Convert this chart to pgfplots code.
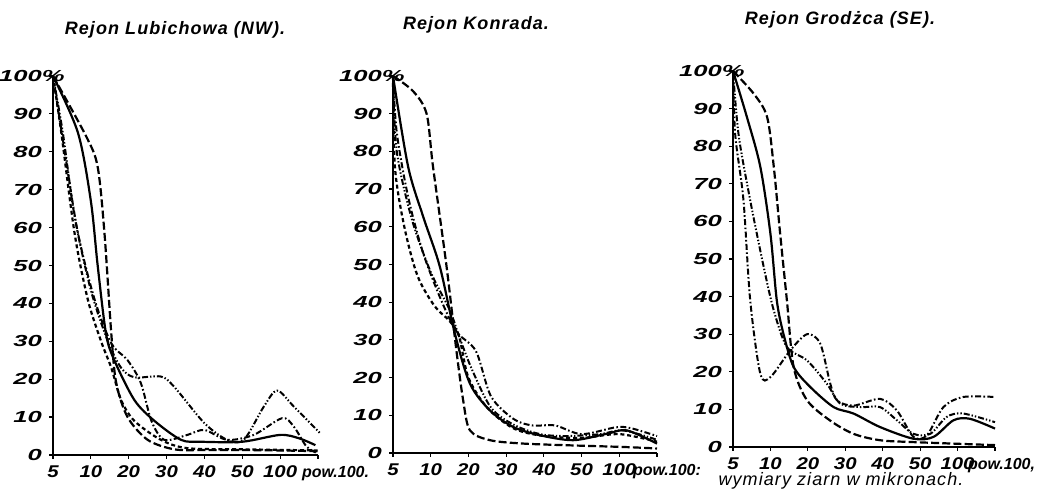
\documentclass[border=0pt]{standalone}
\usepackage{fontspec}
\setmainfont{Liberation Sans}
\newfontfamily\titlefont[LetterSpace=6]{Liberation Sans}
\newfontfamily\ytickfont[FakeStretch=1.6]{Liberation Sans}
\newfontfamily\xtickfont[FakeStretch=1.2]{Liberation Sans}
\newfontfamily\lastfont{Liberation Sans}
\usepackage{pgfplots}
\pgfplotsset{compat=1.18}
\newcommand{\lastlab}[2]{\rlap{\hspace*{#1}\lastfont\fontsize{8}{9}\selectfont\bfseries\itshape #2}}
\pgfplotsset{
  panel/.style={
    scale only axis,
    xmin=0, xmax=7, ymin=0, ymax=100,
    axis x line*=bottom, axis y line*=left,
    axis line style={line width=1.3pt,-},
    xtick={0,...,7}, ytick={0,10,...,100},
    yticklabels={0,10,20,30,40,50,60,70,80,90,{100\rlap{\%}}},
    tick style={black,line width=0.6pt},
    major tick length=2pt, tick align=outside,
    yticklabel style={font=\ytickfont\fontsize{8}{9}\selectfont\bfseries\itshape},
    xticklabel style={font=\xtickfont\fontsize{8.5}{10}\selectfont\bfseries\itshape},
    anchor=south west,
    clip=false,
  },
  solidc/.style={black,line width=1.1pt,smooth},
  longd/.style={black,line width=1.1pt,smooth,dash pattern=on 4pt off 1.6pt},
  shortd/.style={black,line width=1.1pt,smooth,dash pattern=on 2pt off 1.4pt},
  dashdot/.style={black,line width=1pt,smooth,dash pattern=on 3pt off 1.2pt on 0.8pt off 1.2pt},
  dashdotdot/.style={black,line width=1pt,smooth,dash pattern=on 3pt off 1pt on 0.7pt off 1pt on 0.7pt off 1pt},
}
\begin{document}
\begin{tikzpicture}
\useasboundingbox (0,0) rectangle (519pt,248pt);

% Panel 1
\begin{axis}[panel, at={(26.5pt,20.5pt)}, width=132.5pt, height=189.5pt,
  xticklabels={5,10,20,30,40,50,100,{\lastlab{-8pt}{pow.100.}}}]
\addplot[solidc] coordinates {(0,100)(0.66,85)(1.0,67)(1.18,50)(1.4,32)(1.62,25)(2.15,14.5)(2.68,9)(3.38,4)(3.9,3.5)(5.0,3.5)(6.0,5.3)(6.5,4.4)(6.93,2.6)};
\addplot[longd] coordinates {(0,100)(0.88,84)(1.18,76)(1.36,58.5)(1.54,32)(1.67,19)(1.97,10)(2.5,4)(3.2,1.5)(4,1.3)(5,1.3)(6,1.2)(7,1)};
\addplot[shortd] coordinates {(0,100)(0.22,85)(0.57,58.5)(0.92,41)(1.27,30)(1.54,23)(1.8,14.5)(2.15,9)(2.85,4)(3.55,1.8)(5,1.5)(7,1.2)};
\addplot[dashdot] coordinates {(0,100)(0.31,80)(0.66,58.5)(1.1,41)(1.54,29.5)(1.97,25)(2.32,19)(2.6,9)(2.94,4)(3.55,5.3)(4.0,6.6)(4.6,4)(5.3,5.3)(6.05,9.7)(6.36,7.5)(6.7,2.2)(7,0.4)};
\addplot[dashdotdot] coordinates {(0,100)(0.26,85)(0.57,63)(1.0,43.5)(1.45,30)(1.8,23)(2.15,20.5)(2.85,20.7)(3.2,18)(4.0,8.4)(4.6,4)(5.04,4)(5.57,12.8)(5.92,17)(6.36,12.8)(7.06,5.7)};
\end{axis}

% Panel 2
\begin{axis}[panel, at={(196.5pt,21.5pt)}, width=132pt, height=188.5pt,
  xticklabels={5,10,20,30,40,50,100,{\lastlab{-12pt}{pow.100:}}}]
\addplot[solidc] coordinates {(0,100)(0.4,76)(0.8,62.7)(1.24,49.5)(1.64,31.7)(2.04,18.4)(2.57,11.3)(3.19,6.9)(3.9,4.7)(4.78,3.4)(5.67,5.1)(6.2,6)(7,2.5)};
\addplot[longd] coordinates {(0,100)(0.53,96)(0.89,90)(1.06,76)(1.42,49.5)(1.68,27.3)(1.86,14)(2.04,6)(2.57,3.4)(3.45,2.5)(4.78,2)(6.1,1.6)(7,1.2)};
\addplot[shortd] coordinates {(0,100)(0.05,76)(0.3,60)(0.65,47)(1.1,39)(1.5,35)(1.75,31)(2.0,20)(2.5,12)(3.2,6.5)(4.0,4.5)(5,4)(6,5)(7,3)};
\addplot[dashdot] coordinates {(0,100)(0.1,85)(0.4,68)(0.8,53)(1.3,40)(1.7,32)(2.2,27)(2.6,15)(3.2,9)(3.7,7.3)(4.3,7.3)(5,5)(5.9,6.8)(6.3,6.6)(7,4.5)};
\addplot[dashdotdot] coordinates {(0,100)(0.1,80)(0.5,62)(1.0,48)(1.5,38)(1.75,31)(2.1,22)(2.6,12)(3.2,7.5)(3.9,5)(4.6,4.5)(5.5,5)(6.1,6)(7,3.5)};
\end{axis}

% Panel 3
\begin{axis}[panel, at={(366.5pt,24.5pt)}, width=131pt, height=188pt,
  xticklabels={5,10,20,30,40,50,100,{\lastlab{-13.5pt}{pow.100,}}}]
\addplot[solidc] coordinates {(0,100)(0.37,87.8)(0.73,74.5)(1.0,56.7)(1.17,39)(1.35,30)(1.62,21.3)(2.06,16)(2.69,10.6)(3.22,8.9)(3.93,5.3)(4.82,2.2)(5.36,2.7)(5.89,7.1)(6.33,7.5)(7,4.9)};
\addplot[longd] coordinates {(0,100)(0.55,94)(0.91,87.8)(1.09,74.5)(1.26,56.7)(1.44,39)(1.62,21.3)(1.98,12.4)(2.6,7)(3.22,3.5)(3.93,1.8)(4.82,1.3)(7,0.5)};
\addplot[dashdot] coordinates {(0,100)(0.06,83)(0.28,65.6)(0.46,39)(0.73,19.5)(1.0,18.6)(1.53,25.7)(1.98,30)(2.33,27.5)(2.6,16.8)(2.78,12.4)(3.22,11)(3.93,12.8)(4.38,9.7)(4.82,2.7)(5.18,3.1)(5.62,10.6)(6.15,13.3)(7,13.3)};
\addplot[dashdotdot] coordinates {(0,100)(0.15,83)(0.46,65.6)(0.82,47.9)(1.09,36.3)(1.44,26.6)(1.98,23)(2.51,16.8)(2.87,11.5)(3.4,10.6)(3.93,10.6)(4.38,7.1)(4.82,3.5)(5.27,3.5)(5.71,8)(6.15,8.9)(7,6.6)};
\end{axis}

\node[font=\titlefont\fontsize{9}{10}\selectfont\itshape\bfseries] at (87.5pt,233pt) {Rejon Lubichowa (NW).};
\node[font=\titlefont\fontsize{9}{10}\selectfont\itshape\bfseries] at (238pt,235.5pt) {Rejon Konrada.};
\node[font=\titlefont\fontsize{9}{10}\selectfont\itshape\bfseries] at (420pt,238pt) {Rejon Grodżca (SE).};
\node[font=\titlefont\fontsize{9}{10}\selectfont\itshape] at (420.5pt,7.5pt) {wymiary ziarn w mikronach.};
\end{tikzpicture}
\end{document}
